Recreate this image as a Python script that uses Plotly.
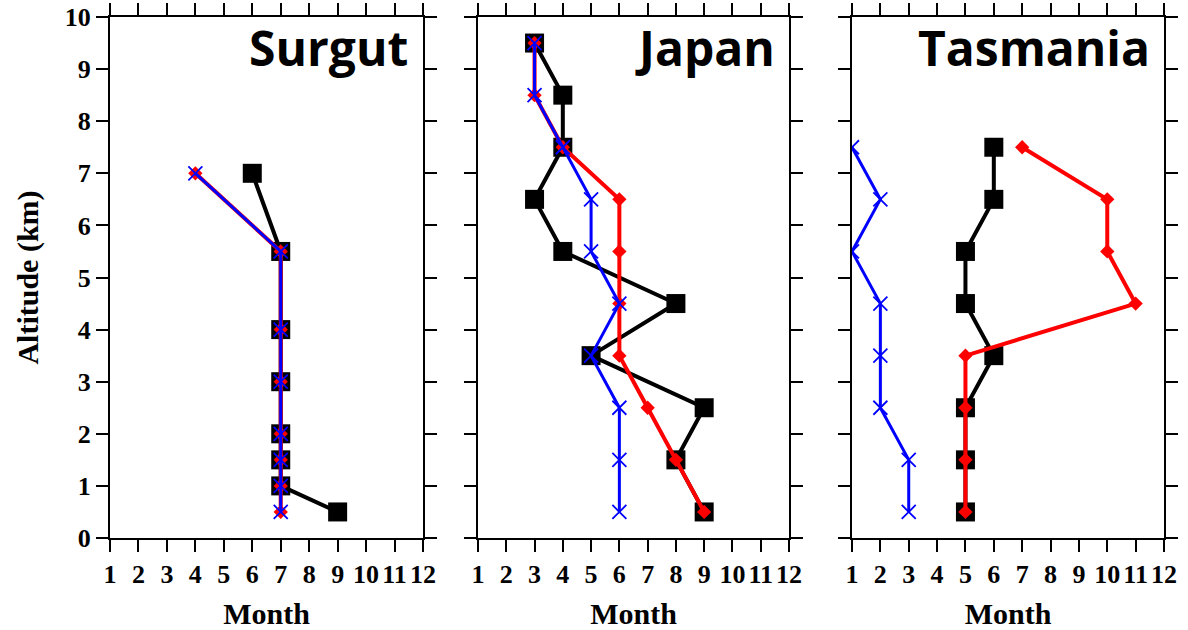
import plotly.graph_objects as go

months = list(range(1, 13))
alt_ticks = list(range(0, 11))

# Surgut
sur_alt_black = [7, 5.5, 4, 3, 2, 1.5, 1, 0.5]
sur_mon_black = [6, 7, 7, 7, 7, 7, 7, 9]
sur_alt_red = [7, 5.5, 4, 3, 2, 1.5, 1, 0.5]
sur_mon_red = [4, 7, 7, 7, 7, 7, 7, 7]
sur_alt_blue = [7, 5.5, 4, 3, 2, 1.5, 1, 0.5]
sur_mon_blue = [4, 7, 7, 7, 7, 7, 7, 7]

# Japan
jap_alt = [9.5, 8.5, 7.5, 6.5, 5.5, 4.5, 3.5, 2.5, 1.5, 0.5]
jap_mon_black = [3, 4, 4, 3, 4, 8, 5, 9, 8, 9]
jap_mon_red = [3, 3, 4, 6, 6, 6, 6, 7, 8, 9]
jap_mon_blue = [3, 3, 4, 5, 5, 6, 5, 6, 6, 6]

# Tasmania
tas_alt = [7.5, 6.5, 5.5, 4.5, 3.5, 2.5, 1.5, 0.5]
tas_mon_black = [6, 6, 5, 5, 6, 5, 5, 5]
tas_mon_red = [7, 10, 10, 11, 5, 5, 5, 5]
tas_mon_blue = [1, 2, 1, 2, 2, 2, 3, 3]

panels = [
    ("Surgut", (sur_mon_black, sur_alt_black), (sur_mon_red, sur_alt_red), (sur_mon_blue, sur_alt_blue)),
    ("Japan", (jap_mon_black, jap_alt), (jap_mon_red, jap_alt), (jap_mon_blue, jap_alt)),
    ("Tasmania", (tas_mon_black, tas_alt), (tas_mon_red, tas_alt), (tas_mon_blue, tas_alt)),
]

W, H = 1188, 630
ml, mr, mt, mb = 110, 24, 17, 92
pw = W - ml - mr
px_panels = [(110, 423), (478, 789), (852, 1164)]
domains = [[(a - ml) / pw, (b - ml) / pw] for a, b in px_panels]

fig = go.Figure()
serif = "Liberation Serif"
tick_font = dict(family=serif, size=26, color="black", weight="bold")

for i, (name, blk, red, blu) in enumerate(panels):
    xa = "x" if i == 0 else f"x{i+1}"
    ya = "y" if i == 0 else f"y{i+1}"
    fig.add_trace(go.Scatter(x=blk[0], y=blk[1], xaxis=xa, yaxis=ya, mode="lines+markers",
                             line=dict(color="black", width=4),
                             marker=dict(symbol="square", size=19, color="black"),
                             showlegend=False))
    fig.add_trace(go.Scatter(x=red[0], y=red[1], xaxis=xa, yaxis=ya, mode="lines+markers",
                             line=dict(color="red", width=4),
                             marker=dict(symbol="diamond", size=11, color="red"),
                             showlegend=False))
    fig.add_trace(go.Scatter(x=blu[0], y=blu[1], xaxis=xa, yaxis=ya, mode="lines+markers",
                             line=dict(color="blue", width=3),
                             marker=dict(symbol="x-thin", size=14, line=dict(color="blue", width=1.8)),
                             showlegend=False))
    axis_common = dict(showline=True, linecolor="black", linewidth=2, mirror="allticks",
                       ticks="outside", ticklen=12, tickwidth=2, tickcolor="black",
                       showgrid=False, zeroline=False, automargin=False)
    xkey = "xaxis" if i == 0 else f"xaxis{i+1}"
    ykey = "yaxis" if i == 0 else f"yaxis{i+1}"
    fig.update_layout(**{
        xkey: dict(axis_common, domain=domains[i], range=[1, 12], tickmode="array",
                   tickvals=months, ticktext=[str(m) for m in months], anchor=ya,
                   tickfont=tick_font, tickangle=0,
                   title=dict(text="<b>Month</b>", font=dict(family=serif, size=30, color="black"),
                              standoff=19)),
        ykey: dict(axis_common, domain=[0, 1], range=[0, 10], tickmode="array",
                   tickvals=alt_ticks, ticktext=[str(a) for a in alt_ticks],
                   tickfont=tick_font,
                   showticklabels=(i == 0), anchor=xa,
                   title=dict(text="<b>Altitude (km)</b>" if i == 0 else "",
                              font=dict(family=serif, size=30, color="black"), standoff=17)),
    })
    fig.add_annotation(text=f"<b>{name}</b>", xref=f"{xa} domain", yref=f"{ya} domain",
                       x=0.96, y=0.942, xanchor="right", yanchor="middle", showarrow=False,
                       font=dict(family="Open Sans", size=48, color="black"))

fig.update_layout(width=W, height=H, margin=dict(l=ml, r=mr, t=mt, b=mb),
                  paper_bgcolor="white", plot_bgcolor="white")

fig.write_html("out.html")
